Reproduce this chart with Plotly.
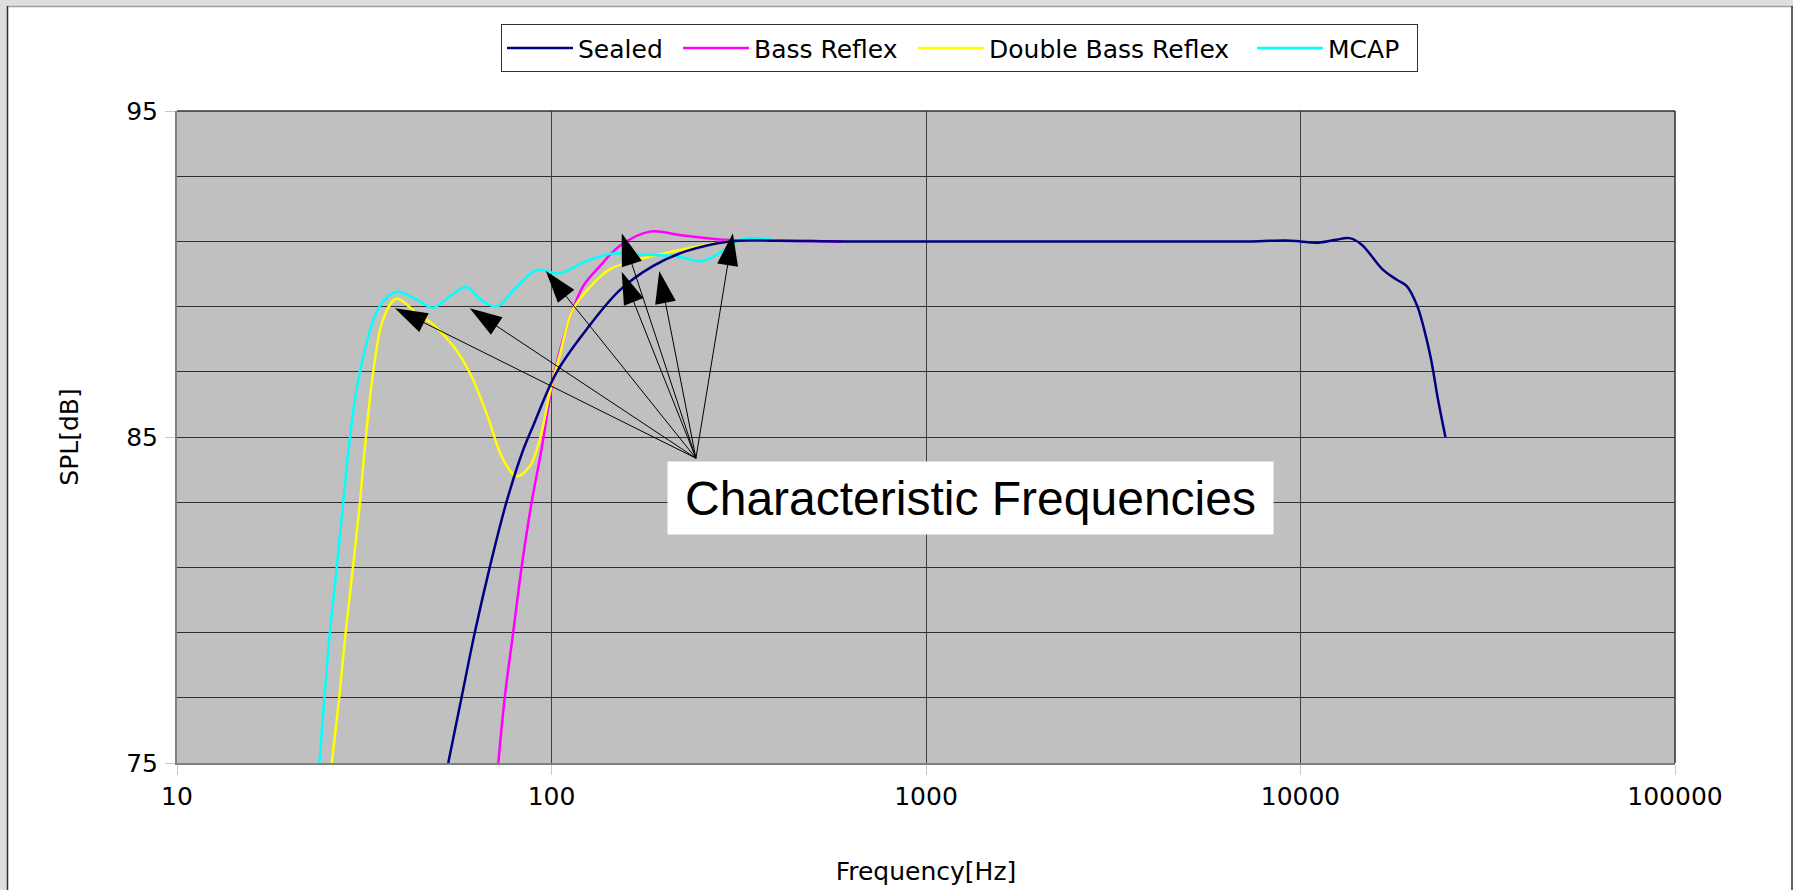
import plotly.graph_objects as go

# ---------------- data ----------------
sealed_f = [53, 57.5, 62.4, 68.4, 75.8, 84, 89.3, 103, 124, 152, 187, 229, 299, 400, 600, 1000,
            2000, 4000, 7380, 9120, 10000, 11050, 12300, 13530, 14570, 16560, 18030, 19220,
            20500, 21390, 22320, 23290, 24380]
sealed_db = [75, 77, 79, 81, 83, 84.6, 85.34, 86.97, 88.3, 89.5, 90.25, 90.7, 91.0, 91.02, 91.0, 91.0,
             91.0, 91.0, 91.0, 91.03, 91.0, 90.96, 91.04, 91.1, 90.9, 90.14, 89.83, 89.63,
             89.02, 88.3, 87.38, 86.15, 85.0]

br_f = [72.1, 75, 79, 83.2, 88.5, 94, 101, 110, 121.5, 134.6, 152, 183, 225, 299, 400, 600]
br_db = [75, 77, 79, 81, 83, 84.6, 86.76, 88.4, 89.63, 90.24, 90.86, 91.3, 91.18, 91.04, 91.02, 91.0]

dbr_f = [25.9, 27.1, 28.2, 29.5, 30.8, 31.7, 33.4, 35.5, 38.5, 43.6, 48.3, 54.6, 60.5, 67, 74.3,
         80.7, 87.5, 93.1, 99, 105, 114, 126.6, 143, 165, 203, 249, 299, 400]
dbr_db = [75, 77, 79, 81, 83, 84.6, 86.97, 88.6, 89.24, 88.8, 88.45, 87.8, 86.97, 85.74, 84.31,
          83.8, 84.1, 84.93, 86.36, 87.48, 88.9, 89.6, 90.14, 90.4, 90.65, 90.86, 91.0, 91.02]

mcap_f = [24.0, 25.6, 26.7, 27.8, 28.7, 30.8, 34.8, 38.5, 43.6, 48.3, 53.5, 59.3, 65, 71.3, 80.6,
          91.2, 105, 124, 146, 165, 203, 225, 251, 282, 325, 400]
mcap_db = [75, 79, 81, 83, 84.6, 87, 89.02, 89.45, 89.22, 88.97, 89.32, 89.6, 89.2, 89.0, 89.6,
           90.12, 90.02, 90.4, 90.63, 90.6, 90.57, 90.5, 90.39, 90.65, 91.08, 91.02]

# characteristic-frequency arrows (tips) and common tail
arrow_tip_f = [38.2, 60.5, 96.6, 154, 154, 194, 305]
arrow_tip_db = [88.95, 88.95, 90.09, 91.25, 90.07, 90.09, 91.25]
arrow_tail_f = 243
arrow_tail_db = 84.35

x_tickvals = [10, 100, 1000, 10000, 100000]
x_ticktext = ["10", "100", "1000", "10000", "100000"]
y_tickvals = [75, 85, 95]

FONT = "DejaVu Sans, sans-serif"
FONT_ANN = "Arial, Liberation Sans, sans-serif"

# ---------------- geometry ----------------
W, H = 1793, 890
ML, MR, MT, MB = 177, 118, 111, 127
PW, PH = W - ML - MR, H - MT - MB


def px(x):
    return (x - ML) / PW


def py(y):
    return (H - MB - y) / PH


fig = go.Figure()

series = [
    ("Bass Reflex", br_f, br_db, "#FF00FF", 2, 154),
    ("Double Bass Reflex", dbr_f, dbr_db, "#FFFF00", 3, 258),
    ("MCAP", mcap_f, mcap_db, "#00FFFF", 4, 84),
    ("Sealed", sealed_f, sealed_db, "#000080", 1, 95),
]
for name, xs, ys, col, rank, lw in series:
    fig.add_trace(go.Scatter(
        x=xs, y=ys, name=name, mode="lines",
        line=dict(color=col, width=2.5, shape="spline", smoothing=1.0),
        legendrank=rank, legendwidth=lw,
    ))

for tf, tdb in zip(arrow_tip_f, arrow_tip_db):
    fig.add_trace(go.Scatter(
        x=[arrow_tail_f, tf], y=[arrow_tail_db, tdb], mode="lines+markers",
        line=dict(color="black", width=1),
        marker=dict(symbol=["circle", "arrow"], size=[0, 34], color="black",
                    angleref="previous", line=dict(width=0), opacity=1),
        showlegend=False, hoverinfo="skip",
    ))

shapes = [
    # window frame (gray bands + dark lines)
    dict(type="rect", xref="paper", yref="paper", x0=px(0), x1=px(W), y0=py(0), y1=py(6),
         fillcolor="#dedede", line=dict(width=0), layer="above"),
    dict(type="rect", xref="paper", yref="paper", x0=px(0), x1=px(7), y0=py(0), y1=py(H),
         fillcolor="#dedede", line=dict(width=0), layer="above"),
    dict(type="line", xref="paper", yref="paper", x0=px(7), x1=px(W), y0=py(6.5), y1=py(6.5),
         line=dict(color="#a0a0a0", width=1.5), layer="above"),
    dict(type="line", xref="paper", yref="paper", x0=px(7.5), x1=px(7.5), y0=py(6), y1=py(H),
         line=dict(color="#303030", width=1.5), layer="above"),
    dict(type="line", xref="paper", yref="paper", x0=px(1792), x1=px(1792), y0=py(6), y1=py(H),
         line=dict(color="#303030", width=1.5), layer="above"),
    # plot-area top/right edges
    dict(type="line", xref="paper", yref="paper", x0=0, x1=1, y0=1, y1=1,
         line=dict(color="#303030", width=1.5), layer="above"),
    dict(type="line", xref="paper", yref="paper", x0=1, x1=1, y0=0, y1=1,
         line=dict(color="#303030", width=1.5), layer="above"),
]

fig.update_layout(
    width=W, height=H,
    margin=dict(l=ML, r=MR, t=MT, b=MB, autoexpand=False),
    paper_bgcolor="white",
    plot_bgcolor="#c0c0c0",
    font=dict(family=FONT, size=25, color="black"),
    showlegend=True,
    legend=dict(
        orientation="h", x=px(501), y=py(24.3), xanchor="left", yanchor="top",
        bgcolor="white", bordercolor="#303030", borderwidth=1,
        font=dict(family=FONT, size=25, color="black"),
        itemwidth=66, traceorder="normal",
    ),
    shapes=shapes,
    annotations=[
        dict(text="Characteristic Frequencies", xref="paper", yref="paper",
             x=px(970.5), y=py(498), xanchor="center", yanchor="middle",
             showarrow=False, bgcolor="white", width=605, height=72, borderpad=0,
             font=dict(family=FONT_ANN, size=48, color="black")),
    ],
)

fig.update_xaxes(
    type="log", range=[1, 5],
    tickvals=x_tickvals, ticktext=x_ticktext,
    showgrid=True, gridcolor="#404040", gridwidth=1,
    showline=True, linecolor="#808080", linewidth=2, mirror=False,
    ticks="outside", ticklen=10, tickcolor="#c8c8c8", tickwidth=1,
    ticklabelstandoff=0,
    tickfont=dict(family=FONT, size=25),
    title=dict(text="Frequency[Hz]", font=dict(family=FONT, size=25), standoff=52),
    zeroline=False,
)
fig.update_yaxes(
    range=[75, 95], tickvals=y_tickvals,
    showgrid=True, gridcolor="#303030", gridwidth=1,
    minor=dict(dtick=2, tick0=75, showgrid=True, gridcolor="#303030", gridwidth=1, ticks=""),
    showline=True, linecolor="#808080", linewidth=2, mirror=False,
    ticks="outside", ticklen=10, tickcolor="#c8c8c8", tickwidth=1,
    ticklabelstandoff=2,
    tickfont=dict(family=FONT, size=25),
    title=dict(text="SPL[dB]", font=dict(family=FONT, size=25), standoff=40),
    zeroline=False,
)

fig.write_html(
    "out.html",
    config={"displayModeBar": False},
    post_script="document.body.style.margin='0';document.body.style.overflow='hidden';",
)
